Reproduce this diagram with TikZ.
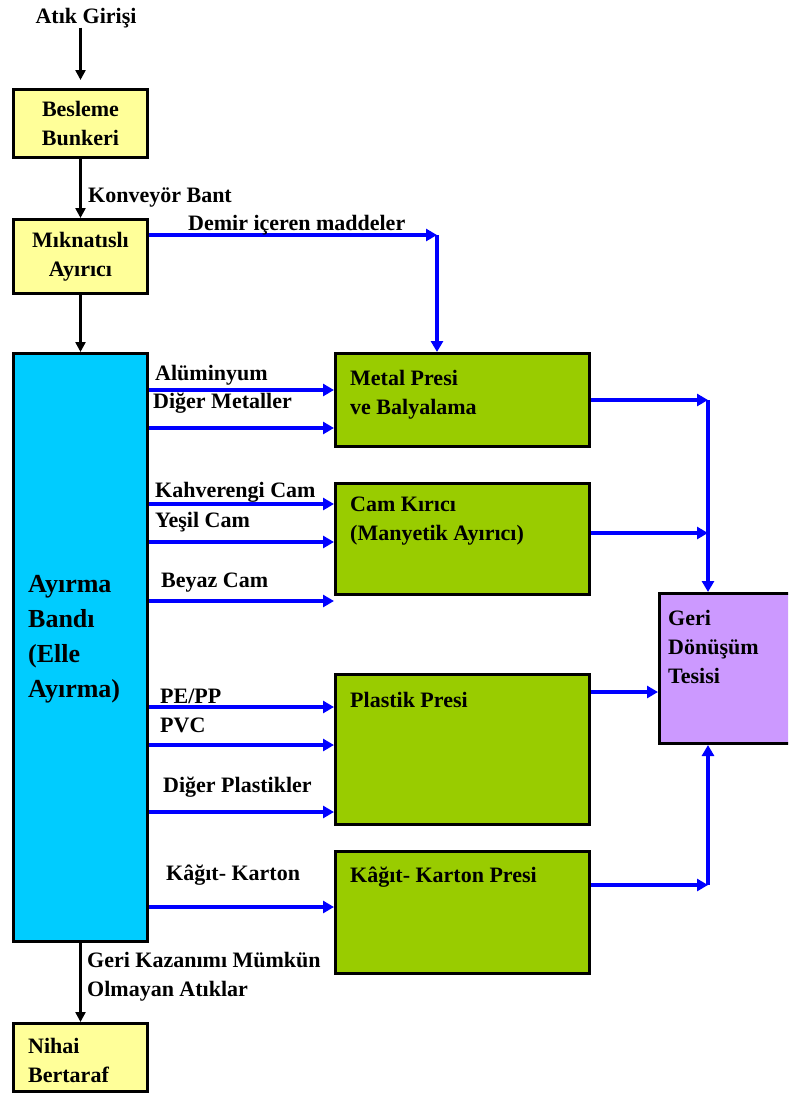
\documentclass[tikz,border=0pt]{standalone}
\usepackage{fontspec}
\setmainfont{Liberation Serif}
\usetikzlibrary{arrows.meta,positioning}
\definecolor{sari}{HTML}{FFFF99}
\definecolor{mavi}{HTML}{00CCFF}
\definecolor{yesil}{HTML}{99CC00}
\definecolor{mor}{HTML}{CC99FF}
\newcommand{\yazi}{\fontsize{22}{29}\selectfont\bfseries}
\newcommand{\buyukyazi}{\fontsize{26}{35}\selectfont\bfseries}
\tikzset{
  kutu/.style={draw, line width=3pt, inner sep=0pt, anchor=north west, font=\yazi, align=center},
  ic/.style={font=\yazi, inner sep=0pt, align=left},
  etiket/.style={font=\yazi, inner sep=0pt, anchor=base west},
  akis/.style={blue, line width=3.2pt, -{Triangle[length=11pt,width=12pt]}},
  kara/.style={black, line width=2.4pt, -{Triangle[length=10pt,width=10pt]}}
}
\begin{document}
\begin{tikzpicture}[x=1pt,y=-1pt]
\clip (0,0) rectangle (788,1095);
\node[etiket, anchor=base] (atik) at (86,23) {Atık Girişi};
\node[kutu, fill=sari, minimum width=134pt, minimum height=68pt] (besleme) at (12,88) {Besleme\\Bunkeri};
\node[kutu, fill=sari, minimum width=134pt, minimum height=74pt] (mik) at (12,218) {Mıknatıslı\\Ayırıcı};
\node[kutu, fill=mavi, minimum width=134pt, minimum height=588pt] (ayirma) at (12,352) {};
\node[ic, font=\buyukyazi, right=16pt of ayirma.west, yshift=8pt] (ayirmayazi) {Ayırma\\Bandı\\(Elle\\Ayırma)};
\node[kutu, fill=sari, minimum width=134pt, minimum height=68pt] (nihai) at (12,1022) {};
\node[ic, below right=16pt and 16pt of nihai.north west] (nihaiyazi) {Nihai\\Bertaraf};

\node[kutu, fill=yesil, minimum width=254pt, minimum height=93pt] (metal) at (334,352) {};
\node[ic, below right=18pt and 16pt of metal.north west] (metalyazi) {Metal Presi\\ve Balyalama};
\node[kutu, fill=yesil, minimum width=254pt, minimum height=111pt] (cam) at (334,482) {};
\node[ic, below right=15pt and 16pt of cam.north west] (camyazi) {Cam Kırıcı\\(Manyetik Ayırıcı)};
\node[kutu, fill=yesil, minimum width=254pt, minimum height=150pt] (plastik) at (334,673) {};
\node[ic, below right=19pt and 16pt of plastik.north west] (plastikyazi) {Plastik Presi};
\node[kutu, fill=yesil, minimum width=254pt, minimum height=122pt] (kagit) at (334,850) {};
\node[ic, below right=17pt and 16pt of kagit.north west] (kagityazi) {Kâğıt- Karton Presi};
\node[kutu, fill=mor, minimum width=147pt, minimum height=150pt] (geri) at (658,592) {};
\node[ic, below right=18pt and 10pt of geri.north west] (geriyazi) {Geri\\Dönüşüm\\Tesisi};

\draw[kara, shorten >=8pt] (atik.south -| besleme.north) -- (besleme.north);
\draw[kara] (besleme) -- (mik);
\draw[kara] (mik) -- (ayirma);
\draw[kara] (ayirma) -- (nihai);
\node[etiket] (konveyor) at (88,202) {Konveyör Bant};
\node[ic, anchor=north west] (kazanim) at (87,952) {Geri Kazanımı Mümkün\\Olmayan Atıklar};

\coordinate (demir) at (437,235);
\draw[akis] (mik.east |- demir) -- (demir);
\draw[akis] (demir) -- (demir |- metal.north);
\node[etiket] (demiryazi) at (188,230) {Demir içeren maddeler};

\draw[akis] (ayirma.east |- 0,390) -- (metal.west |- 0,390);
\draw[akis] (ayirma.east |- 0,428) -- (metal.west |- 0,428);
\node[etiket] (alu) at (155,380) {Alüminyum};
\node[etiket] (digermetal) at (153,408) {Diğer Metaller};

\draw[akis] (ayirma.east |- 0,504) -- (cam.west |- 0,504);
\draw[akis] (ayirma.east |- 0,542) -- (cam.west |- 0,542);
\draw[akis] (ayirma.east |- 0,601) -- (cam.west |- 0,601);
\node[etiket] (kahve) at (155,497) {Kahverengi Cam};
\node[etiket] (yesilcam) at (155,527) {Yeşil Cam};
\node[etiket] (beyaz) at (161,587) {Beyaz Cam};

\draw[akis] (ayirma.east |- 0,707) -- (plastik.west |- 0,707);
\draw[akis] (ayirma.east |- 0,745) -- (plastik.west |- 0,745);
\draw[akis] (ayirma.east |- 0,812) -- (plastik.west |- 0,812);
\node[etiket] (pepp) at (160,703) {PE/PP};
\node[etiket] (pvc) at (160,732) {PVC};
\node[etiket] (digerplastik) at (163,792) {Diğer Plastikler};

\draw[akis] (ayirma.east |- 0,907) -- (kagit.west |- 0,907);
\node[etiket] (karton) at (166,880) {Kâğıt- Karton};

\coordinate (j1) at (708,400);
\coordinate (j2) at (708,533);
\coordinate (j3) at (708,885);
\draw[akis] (metal.east |- j1) -- (j1);
\draw[akis] (j1) -- (j1 |- geri.north);
\draw[akis] (cam.east |- j2) -- (j2);
\draw[akis] (plastik.east |- 0,692) -- (geri.west |- 0,692);
\draw[akis] (kagit.east |- j3) -- (j3);
\draw[akis] (j3) -- (j3 |- geri.south);
\end{tikzpicture}
\end{document}
